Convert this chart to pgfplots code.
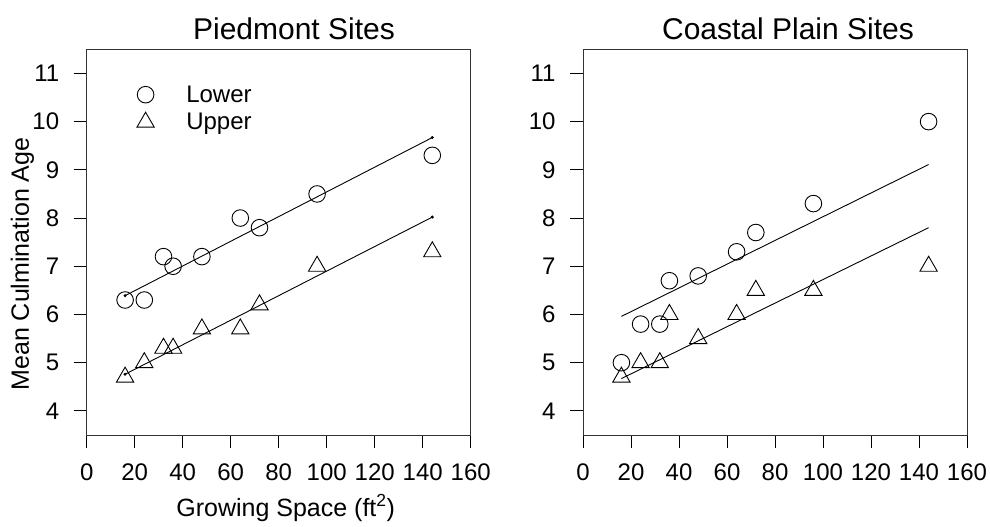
\documentclass[border=0pt]{standalone}
\usepackage{fontspec}
\setmainfont{Liberation Sans}
\usepackage{pgfplots}
\pgfplotsset{compat=1.18}
\pgfplotsset{myax/.style={
  scale only axis, width=384pt, height=385.7pt,
  xmin=0, xmax=160, ymin=3.5, ymax=11.5,
  xtick={0,20,...,160}, ytick={4,5,...,11},
  tick align=outside, xtick pos=left, ytick pos=left,
  major tick length=13pt,
  axis line style={line width=1pt, black!80},
  every tick/.style={line width=1pt, black},
  tick label style={font=\fontsize{24}{24}\selectfont},
  xticklabel style={yshift=-12pt},
  yticklabel style={xshift=-11pt},
  /pgf/number format/assume math mode=true,
  clip=false,
}}
\pgfplotsset{
  lowmark/.style={only marks, mark=o, mark size=8.3pt, mark options={line width=0.9pt, black}},
  upmark/.style={only marks, mark=triangle, mark size=10pt, mark options={line width=0.9pt, black}},
  fitline/.style={black, line width=0.9pt, forget plot},
}
\begin{document}
\begin{tikzpicture}
\useasboundingbox (-86.7pt,-92pt) rectangle (903.3pt,435pt);
\begin{axis}[myax, at={(0pt,0pt)}, anchor=south west,
  legend style={at={(0.1225,0.914)}, anchor=north west, draw=none, fill=none,
    font=\fontsize{24}{24}\selectfont, nodes={inner sep=1pt}, row sep=7.5pt, column sep=31pt},
  legend cell align=left]
\addplot[lowmark] coordinates {(16,6.3) (24,6.3) (32,7.2) (36,7.0) (48,7.2) (64,8.0) (72,7.8) (96,8.5) (144,9.3)};
\addlegendentry{Lower}
\addplot[upmark] coordinates {(16,4.7) (24,5.0) (32,5.3) (36,5.3) (48,5.7) (64,5.7) (72,6.2) (96,7.0) (144,7.3)};
\addlegendentry{Upper}
\addplot[fitline, mark=*, mark size=1pt] coordinates {(16,6.39) (144,9.67)};
\addplot[fitline, mark=*, mark size=1pt] coordinates {(16,4.76) (144,8.02)};
\end{axis}
\begin{axis}[myax, at={(496.3pt,0pt)}, anchor=south west]
\addplot[lowmark] coordinates {(16,5.0) (24,5.8) (32,5.8) (36,6.7) (48,6.8) (64,7.3) (72,7.7) (96,8.3) (144,10.0)};
\addplot[upmark] coordinates {(16,4.7) (24,5.0) (32,5.0) (36,6.0) (48,5.5) (64,6.0) (72,6.5) (96,6.5) (144,7.0)};
\addplot[fitline] coordinates {(16,5.96) (144,9.11)};
\addplot[fitline] coordinates {(16,4.67) (144,7.80)};
\end{axis}
\node[anchor=base, font=\fontsize{30}{30}\selectfont] at (207.3pt,395.7pt) {Piedmont Sites};
\node[anchor=base, font=\fontsize{30}{30}\selectfont] at (701.3pt,395.7pt) {Coastal Plain Sites};
\node[anchor=base, rotate=90, font=\fontsize{25}{25}\selectfont] at (-57.7pt,171pt) {Mean Culmination Age};
\node[anchor=base, font=\fontsize{25}{25}\selectfont] at (199pt,-81pt) {Growing Space (ft\textsuperscript{2})};
\end{tikzpicture}
\end{document}
